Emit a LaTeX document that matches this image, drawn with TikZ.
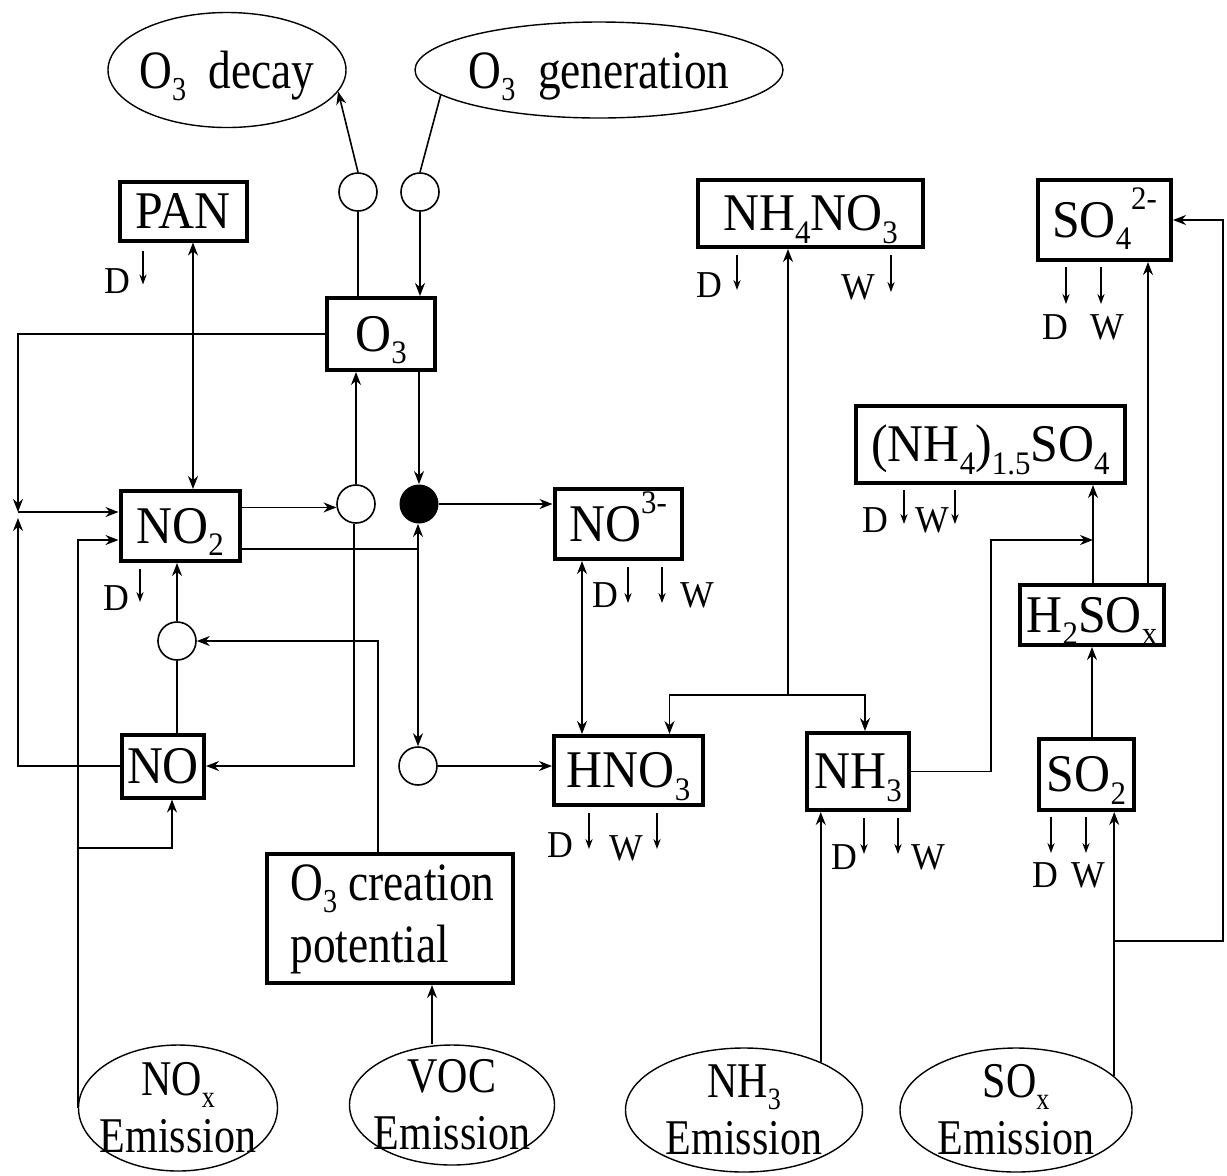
\documentclass[tikz,border=0pt]{standalone}
\usepackage{fontspec}
\usepackage{graphicx}
\setmainfont{Liberation Serif}[FakeStretch=0.94]
\newfontfamily\condfont{Liberation Serif}[FakeStretch=0.84]
\usetikzlibrary{arrows.meta,shapes.geometric,calc}
\newcommand{\lo}[1]{\raisebox{-0.24em}{\scalebox{0.62}{#1}}}
\newcommand{\hi}[1]{\raisebox{0.52em}{\scalebox{0.62}{#1}}}
\begin{document}
\begin{tikzpicture}[x=0.5pt,y=-0.5pt,
  ln/.style={line width=0.8pt},
  arr/.style={ln,-{Stealth[length=6.5pt,width=5pt]}},
  dar/.style={ln,{Stealth[length=6.5pt,width=5pt]}-{Stealth[length=6.5pt,width=5pt]}},
  sarr/.style={line width=0.7pt,-{Stealth[length=5pt,width=3.6pt]}},
  bx/.style={draw,line width=2pt,inner sep=0pt,text height=17pt,text depth=0pt,font=\fontsize{26.5}{30}\selectfont},
  circ/.style={draw,circle,line width=0.8pt,minimum size=19pt,inner sep=0pt},
  ell/.style={draw,ellipse,line width=0.7pt,inner sep=0pt},
  etop/.style={inner sep=0pt,text height=18pt,text depth=0pt,font=\condfont\fontsize{27}{30}\selectfont},
  etxt/.style={inner sep=0pt,align=center,font=\condfont\fontsize{25}{28.5}\selectfont},
  ctxt/.style={anchor=base west,inner sep=0pt,font=\condfont\fontsize{27}{30}\selectfont},
  lab/.style={inner sep=0pt,font=\fontsize{19}{22}\selectfont}]
\useasboundingbox (0,0) rectangle (1227,1175);

% top ellipses
\node[ell,minimum width=119pt,minimum height=57.5pt] (decay) at (227,70) {};
\node[etop] (decayT) at (decay) {O\lo{3}\ \ decay};
\node[ell,minimum width=184pt,minimum height=48pt] (gen) at (599,70) {};
\node[etop] (genT) at (gen) {O\lo{3}\ \ generation};

% small circles
\node[circ] (c1) at (358,192) {};
\node[circ] (c2) at (420,192) {};
\node[circ] (c3) at (356,504) {};
\node[circle,fill=black,minimum size=19.5pt,inner sep=0pt] (dot) at (419,504) {};
\node[circ] (c4) at (177,641) {};
\node[circ] (c5) at (418,766) {};

% boxes
\node[bx,minimum width=63.5pt,minimum height=29.5pt] (PAN) at (183,211) {PAN};
\node[bx,minimum width=54pt,minimum height=36pt] (O3) at (381,334) {O\lo{3}};
\node[bx,minimum width=59.5pt,minimum height=35pt] (NO2) at (180,526) {NO\lo{2}};
\node[bx,minimum width=41pt,minimum height=31.5pt] (NO) at (163,766) {NO};
\node[bx,minimum width=63.5pt,minimum height=35pt] (NO3) at (618,524) {NO\hi{3-}};
\node[bx,minimum width=74.5pt,minimum height=34.5pt] (HNO3) at (628.5,770.5) {HNO\lo{3}};
\node[bx,minimum width=112.5pt,minimum height=33.5pt] (NH4NO3) at (810.5,213.5) {NH\lo{4}NO\lo{3}};
\node[bx,minimum width=51pt,minimum height=38.5pt] (NH3) at (858,771.5) {NH\lo{3}};
\node[bx,minimum width=66.5pt,minimum height=40pt] (SO4) at (1104.5,220) {SO\lo{4}\hi{2-}};
\node[bx,minimum width=134.5pt,minimum height=38.5pt] (NH415) at (990.5,444.5) {(NH\lo{4})\lo{1.5}SO\lo{4}};
\node[bx,minimum width=72pt,minimum height=30pt] (H2SO4x) at (1092,615) {H\lo{2}SO\lo{x}};
\node[bx,minimum width=47.5pt,minimum height=35.5pt] (SO2) at (1086.5,774.5) {SO\lo{2}};
\node[draw,line width=2pt,inner sep=0pt,minimum width=123pt,minimum height=64.5pt] (O3cp) at (390,918.5) {};
\node[ctxt] (O3cpT1) at (290,900) {O\lo{3} creation};
\node[ctxt] (O3cpT2) at (290,962) {potential};

% bottom ellipses
\node[ell,minimum width=99.5pt,minimum height=63pt] (NOx) at (178,1108) {};
\node[etxt] (NOxT) at (NOx) {NO\lo{x}\\Emission};
\node[ell,minimum width=102.5pt,minimum height=60pt] (VOC) at (452,1105) {};
\node[etxt] (VOCT) at (VOC) {VOC\\Emission};
\node[ell,minimum width=118.5pt,minimum height=62pt] (NH3em) at (744,1110) {};
\node[etxt] (NH3emT) at (NH3em) {NH\lo{3}\\Emission};
\node[ell,minimum width=116pt,minimum height=62pt] (SOx) at (1016,1110) {};
\node[etxt] (SOxT) at (SOx) {SO\lo{x}\\Emission};

% coordinates for junctions
\coordinate (jL) at (18,512);
\coordinate (j1) at (418,549);
\coordinate (jn) at (788,695);
\coordinate (jh) at (1093,540);
\path (NOx.west) ++(0,-260) coordinate (nb);
\path (SOx.19) ++(0,-135) coordinate (sb);

% ozone part
\draw[arr] (c1.north) -- (decay.-11);
\draw[ln] (gen.189) -- (c2.north);
\draw[ln] (c1.south) -- (c1.south |- O3.north);
\draw[arr] (c2.south) -- (c2.south |- O3.north);
\draw[dar] ([xshift=5pt]PAN.south) -- ([xshift=5pt]PAN.south |- NO2.north);
\draw[arr] (O3.west) -| (jL);
\draw[arr] (jL) -- (jL -| NO2.west);
\draw[arr] (NO.west) -| ($(jL)+(0,6)$);
\draw[arr] (NOx.west) |- ([yshift=-7pt]NO2.west);
\draw[arr] (nb) -| ([xshift=4.5pt]NO.south);
\draw[arr] (c3.north) -- (c3.north |- O3.south);
\draw[arr] (O3.south -| dot.north) -- (dot.north);
\draw[arr] (NO2.east |- c3.190) -- (c3.190);
\draw[ln] (NO2.east |- j1) -- (j1);
\draw[arr] (j1) -- (j1 |- dot.south);
\draw[arr] (j1) -- (j1 |- c5.north);
\draw[arr] ([xshift=-1pt]c3.south) |- (NO.east);
\draw[arr] (c4.north) -- (c4.north |- NO2.south);
\draw[ln] (c4.south) -- (c4.south |- NO.north);
\draw[arr] ([xshift=-6pt]O3cp.north) |- (c4.east);
\draw[arr] ([xshift=-10pt]VOC.north) -- ([xshift=-10pt]VOC.north |- O3cp.south);
\draw[arr] (dot.east) -- (dot.east -| NO3.west);
\draw[arr] (c5.east) -- (c5.east -| HNO3.west);
\draw[dar] ([xshift=-18pt]NO3.south) -- ([xshift=-18pt]NO3.south |- HNO3.north);

% ammonia / sulphur part
\draw[arr] (jn) -- (jn |- NH4NO3.south);
\draw[arr] (jn) -| ([xshift=20.5pt]HNO3.north);
\draw[arr] (jn) -| ([xshift=3.5pt]NH3.north);
\draw[arr] (NH3.east) -- ++(80,0) |- (jh);
\draw[arr] (H2SO4x.north -| jh) -- (jh |- NH415.south);
\draw[arr] ([xshift=28pt]H2SO4x.north) -- ([xshift=28pt]H2SO4x.north |- SO4.south);
\draw[arr] (SO2.north -| H2SO4x.south) -- (H2SO4x.south);
\draw[arr] (NH3em.32) -- (NH3em.32 |- NH3.south);
\draw[arr] (SOx.19) -- (SOx.19 |- SO2.south);
\draw[arr] (sb) -- ++(109,0) |- (SO4.east);

% deposition arrows and labels
\draw[sarr] ([xshift=-20pt,yshift=-4pt]PAN.south) -- ++(0,34);
\node[lab] (pd) at (117,281) {D};
\draw[sarr] ([xshift=-20pt,yshift=-3pt]NO2.south) -- ++(0,33);
\node[lab] (n2d) at (116,598) {D};
\draw[sarr] ([xshift=-36.75pt,yshift=-3pt]NH4NO3.south) -- ++(0,35);
\node[lab] (nnd) at (709,285) {D};
\draw[sarr] ([xshift=40.25pt,yshift=-3pt]NH4NO3.south) -- ++(0,37);
\node[lab] (nnw) at (858,287) {W};
\draw[sarr] ([xshift=-19.25pt,yshift=-2.5pt]SO4.south) -- ++(0,37);
\draw[sarr] ([xshift=-1.75pt,yshift=-2.5pt]SO4.south) -- ++(0,37);
\node[lab] (s4d) at (1055,327) {D};
\node[lab] (s4w) at (1107,327) {W};
\draw[sarr] ([xshift=-43.25pt,yshift=-2.5pt]NH415.south) -- ++(0,34);
\node[lab] (n15d) at (875,520) {D};
\draw[sarr] ([xshift=-17.75pt,yshift=-2.5pt]NH415.south) -- ++(0,34);
\node[lab] (n15w) at (932,520) {W};
\draw[sarr] ([xshift=5pt,yshift=-3pt]NO3.south) -- ++(0,36);
\node[lab] (n3d) at (605,595) {D};
\draw[sarr] ([xshift=22pt,yshift=-3pt]NO3.south) -- ++(0,36);
\node[lab] (n3w) at (697,595) {W};
\draw[sarr] ([xshift=-19.75pt,yshift=-3pt]HNO3.south) -- ++(0,36);
\node[lab] (hd) at (560,845) {D};
\draw[sarr] ([xshift=14.25pt,yshift=-3pt]HNO3.south) -- ++(0,36);
\node[lab] (hw) at (626,848) {W};
\draw[sarr] ([xshift=3pt,yshift=-3pt]NH3.south) -- ++(0,36);
\node[lab] (ad) at (844,857) {D};
\draw[sarr] ([xshift=20pt,yshift=-3pt]NH3.south) -- ++(0,36);
\node[lab] (aw) at (928,857) {W};
\draw[sarr] ([xshift=-17.75pt,yshift=-2.5pt]SO2.south) -- ++(0,36);
\draw[sarr] ([xshift=-0.25pt,yshift=-2.5pt]SO2.south) -- ++(0,36);
\node[lab] (s2d) at (1045,875) {D};
\node[lab] (s2w) at (1088,875) {W};
\end{tikzpicture}
\end{document}
